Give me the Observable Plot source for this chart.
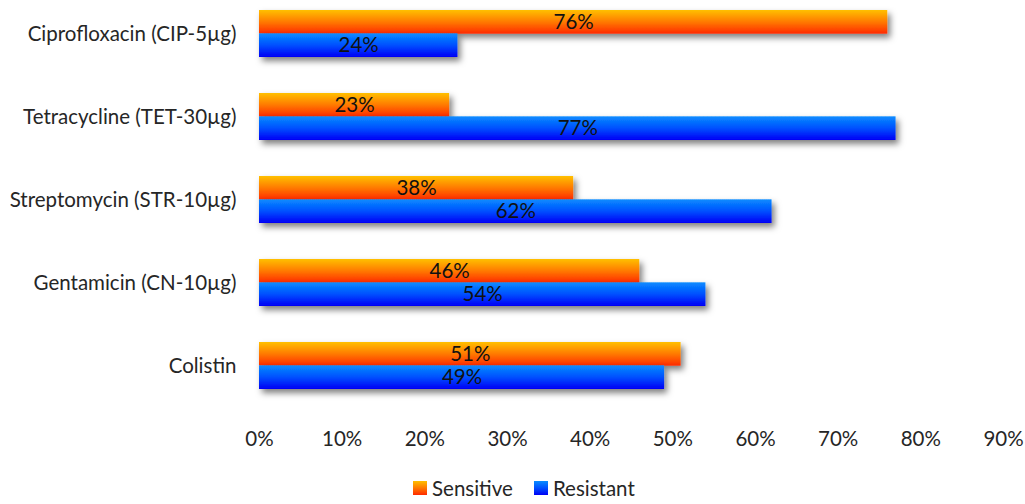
<!DOCTYPE html>
<html>
<head>
<meta charset="utf-8">
<script src="https://cdn.jsdelivr.net/npm/d3@7"></script>
<script src="https://cdn.jsdelivr.net/npm/@observablehq/plot@0.6"></script>
<style>
  body { margin: 0; background: #fff; font-family: Lato, sans-serif; }
  #wrap { position: relative; width: 1025px; height: 504px; }
  #chart svg { display: block; }
  .legend { position: absolute; top: 476px; left: 413px; display: flex; align-items: center;
            font-size: 20.5px; color: #262626; line-height: 24px; }
  .legend .item { display: flex; align-items: center; margin-right: 21px; }
  .legend .sw { width: 14px; height: 14px; margin-right: 5px; }
</style>
</head>
<body>
<div id="wrap">
  <div id="chart"></div>
  <div class="legend" id="legend"></div>
</div>
<script>
// Antibiotic susceptibility: share of isolates sensitive vs resistant
const drugs = [
  "Ciprofloxacin (CIP-5µg)",
  "Tetracycline (TET-30µg)",
  "Streptomycin (STR-10µg)",
  "Gentamicin (CN-10µg)",
  "Colistin"
];
const sensitive = [76, 23, 38, 46, 51];
const resistant = [24, 77, 62, 54, 49];
const seriesNames = ["Sensitive", "Resistant"];
const xTicks = [0, 10, 20, 30, 40, 50, 60, 70, 80, 90];

// gradient stops per series (top -> bottom)
const gradients = {
  Sensitive: ["#ffc000", "#ff7a00", "#ff2a00"],
  Resistant: ["#0a8cff", "#0050ff", "#0000f5"]
};

const rows = drugs.map((d, i) => ({drug: d, sensitive: sensitive[i], resistant: resistant[i]}));

const yRange = [10, 389.5];
const padInner = 0.439;
const step = (yRange[1] - yRange[0]) / (drugs.length - padInner);
const half = step * (1 - padInner) / 2;

const font = "Lato, sans-serif";
const fs = 20.5;

const chart = Plot.plot({
  width: 1025,
  height: 470,
  marginLeft: 259,
  marginRight: 22,
  marginTop: 10,
  marginBottom: 50,
  style: {fontFamily: font, fontSize: fs + "px", color: "#262626", background: "white"},
  x: {domain: [0, 90]},
  y: {domain: drugs, range: yRange, paddingInner: padInner, paddingOuter: 0},
  marks: [
    Plot.barX(rows, {y: "drug", x: "sensitive", fill: "url(#grad-Sensitive)", insetBottom: half}),
    Plot.barX(rows, {y: "drug", x: "resistant", fill: "url(#grad-Resistant)", insetTop: half}),
    Plot.text(rows, {y: "drug", x: d => d.sensitive / 2, text: d => d.sensitive + "%",
      dy: -half / 2, fill: "#111", fontSize: fs}),
    Plot.text(rows, {y: "drug", x: d => d.resistant / 2, text: d => d.resistant + "%",
      dy: half / 2, fill: "#111", fontSize: fs}),
    Plot.axisX({ticks: xTicks, tickFormat: d => d + "%", tickSize: 0, tickPadding: 11, fontSize: fs, label: null}),
    Plot.axisY({tickSize: 0, tickPadding: 23, fontSize: fs, label: null})
  ]
});

// gradient fills and drop shadow for the bars
const svg = d3.select(chart);
const defs = svg.insert("defs", ":first-child");
for (const name of seriesNames) {
  const g = defs.append("linearGradient").attr("id", "grad-" + name)
    .attr("x1", 0).attr("y1", 0).attr("x2", 0).attr("y2", 1);
  const stops = gradients[name];
  stops.forEach((c, i) => g.append("stop").attr("offset", i / (stops.length - 1)).attr("stop-color", c));
}
const f = defs.append("filter").attr("id", "shadow")
  .attr("x", "-10%").attr("y", "-30%").attr("width", "130%").attr("height", "190%");
f.append("feDropShadow").attr("dx", 3).attr("dy", 4).attr("stdDeviation", 3)
  .attr("flood-color", "#000").attr("flood-opacity", 0.5);
svg.selectAll('g[aria-label="bar"]').attr("filter", "url(#shadow)");

document.getElementById("chart").appendChild(chart);

// legend below the chart
const legend = d3.select("#legend");
for (const name of seriesNames) {
  const item = legend.append("div").attr("class", "item");
  const st = gradients[name];
  item.append("div").attr("class", "sw")
    .style("background", `linear-gradient(to bottom, ${st.join(", ")})`);
  item.append("span").text(name);
}
</script>
</body>
</html>
